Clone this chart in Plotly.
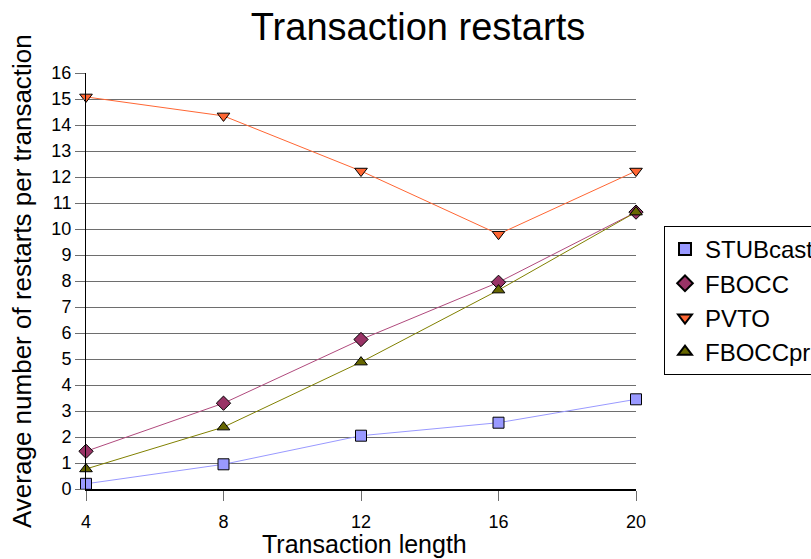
import plotly.graph_objects as go

x_vals = [4, 8, 12, 16, 20]
stubcast = [0.2, 0.95, 2.05, 2.55, 3.45]
fbocc = [1.45, 3.3, 5.75, 7.95, 10.65]
pvto = [15.08, 14.35, 12.23, 9.8, 12.23]
fboccpr = [0.77, 2.38, 4.88, 7.65, 10.65]
y_ticks = list(range(0, 17))

series = [
    ("STUBcast", stubcast, "square", "#9999FF", "#9999FF"),
    ("FBOCC", fbocc, "diamond", "#993366", "#B04A7D"),
    ("PVTO", pvto, "triangle-down", "#FF6633", "#FF6633"),
    ("FBOCCpr", fboccpr, "triangle-up", "#666600", "#808000"),
]

# figure a bit wider than the 811px window so the legend box runs off the right edge,
# as in the reference
W, H = 850, 559
L, R, T, B = 86, 214, 73, 70
PW, PH = W - L - R, H - T - B

def px(xp):
    return (xp - L) / PW

def py(yp):
    return (H - B - yp) / PH

fig = go.Figure()
for name, ys, sym, fill, line in series:
    fig.add_trace(go.Scatter(
        x=x_vals, y=ys, name=name, mode="lines", showlegend=False,
        line=dict(color=line, width=1), cliponaxis=False, hoverinfo="skip",
    ))
for name, ys, sym, fill, line in series:
    fig.add_trace(go.Scatter(
        x=x_vals, y=ys, name=name, mode="markers", legendgroup=name,
        marker=dict(symbol=sym, size=11, color=fill, line=dict(color="black", width=1)),
        cliponaxis=False,
    ))

fig.update_layout(
    width=W, height=H,
    margin=dict(l=L, r=R, t=T, b=B),
    paper_bgcolor="white", plot_bgcolor="white",
    font=dict(family="Liberation Sans, Arial", color="black"),
    title=dict(text="Transaction restarts", x=418 / W, xanchor="center",
               y=1 - 27 / H, yanchor="middle", font=dict(size=38)),
    legend=dict(x=px(664), y=py(226), xanchor="left", yanchor="top",
                bordercolor="black", borderwidth=1, font=dict(size=24),
                tracegroupgap=0, itemsizing="constant"),
    showlegend=True,
    annotations=[
        dict(text="Transaction length", xref="paper", yref="paper",
             x=px(364), y=py(544), xanchor="center", yanchor="middle",
             showarrow=False, font=dict(size=25)),
        dict(text="Average number of restarts per transaction", xref="paper", yref="paper",
             x=px(22), y=py(281), xanchor="center", yanchor="middle", textangle=-90,
             showarrow=False, font=dict(size=26)),
    ],
)
fig.update_xaxes(
    range=[4, 20], tickvals=x_vals, ticks="outside", ticklen=10, tickcolor="#6e6e6e",
    showgrid=False, showline=True, linecolor="black", linewidth=2, zeroline=False,
    tickfont=dict(size=18), ticklabelstandoff=5, automargin=False,
)
fig.update_yaxes(
    range=[0, 16], tickvals=y_ticks, ticks="outside", ticklen=10, tickcolor="#6e6e6e",
    showgrid=True, gridcolor="#6e6e6e", gridwidth=1, showline=True, linecolor="black",
    linewidth=1, zeroline=False, tickfont=dict(size=18), automargin=False,
)

fig.write_html(
    "out.html",
    config={"displayModeBar": False},
    post_script="document.body.style.margin='0';document.body.style.overflow='hidden';",
)
